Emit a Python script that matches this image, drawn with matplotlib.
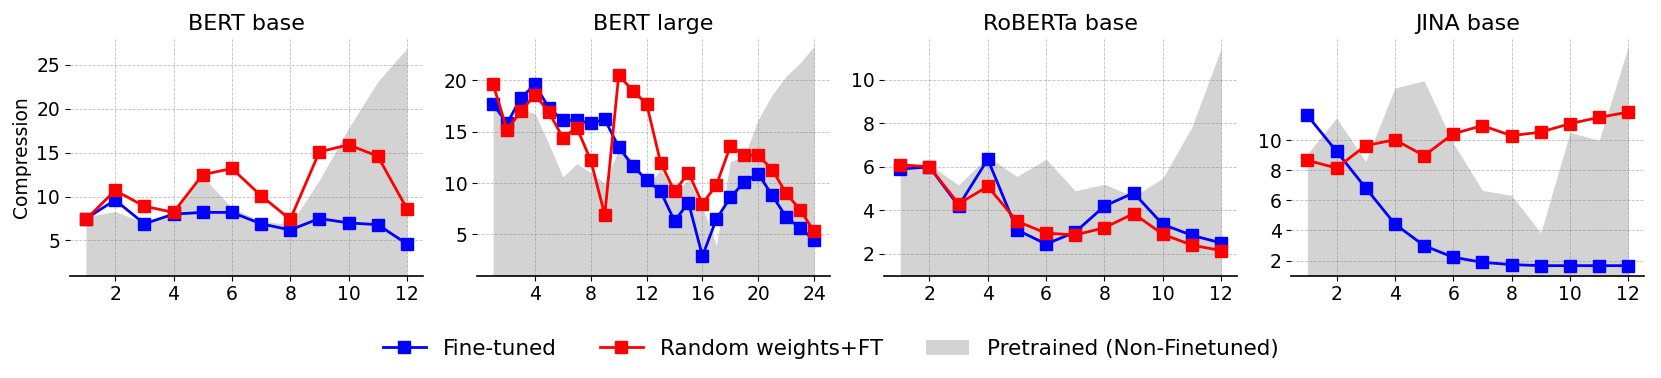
import matplotlib
matplotlib.use("Agg")
import matplotlib.pyplot as plt
import numpy as np

titles = ["BERT base", "BERT large", "RoBERTa base", "JINA base"]

bert_base_ft = [7.5, 9.6, 6.9, 8.0, 8.2, 8.2, 6.9, 6.2, 7.5, 7.0, 6.8, 4.6]
bert_base_rand = [7.4, 10.7, 8.9, 8.2, 12.5, 13.2, 10.1, 7.4, 15.1, 15.9, 14.6, 8.6]
bert_base_pre = [7.7, 8.3, 7.0, 8.0, 12.3, 8.7, 7.2, 6.8, 11.9, 17.8, 23.1, 26.9]

bert_large_ft = [17.7, 15.8, 18.3, 19.6, 17.3, 16.1, 16.1, 15.8, 16.2, 13.5, 11.7, 10.3,
                 9.2, 6.3, 8.1, 2.9, 6.5, 8.6, 10.1, 10.9, 8.8, 6.7, 5.6, 4.5]
bert_large_rand = [19.6, 15.2, 17.0, 18.6, 16.9, 14.4, 15.4, 12.2, 6.9, 20.5, 19.0, 17.7,
                   12.0, 9.2, 11.0, 8.0, 9.8, 13.6, 12.7, 12.7, 11.3, 9.0, 7.4, 5.3]
bert_large_pre = [17.5, 15.8, 17.1, 16.8, 13.8, 10.6, 11.9, 11.0, 10.0, 13.3, 12.3, 9.7,
                  11.3, 9.0, 10.3, 7.7, 3.95, 12.1, 12.6, 16.2, 18.6, 20.4, 21.7, 23.3]

roberta_ft = [5.9, 6.0, 4.2, 6.35, 3.1, 2.45, 3.0, 4.2, 4.8, 3.35, 2.85, 2.5]
roberta_rand = [6.1, 6.0, 4.3, 5.1, 3.5, 2.95, 2.87, 3.2, 3.85, 2.9, 2.4, 2.15]
roberta_pre = [6.1, 6.1, 5.17, 6.47, 5.56, 6.35, 4.9, 5.2, 4.64, 5.48, 7.85, 11.46]

jina_ft = [11.66, 9.27, 6.83, 4.43, 2.99, 2.22, 1.88, 1.73, 1.66, 1.66, 1.66, 1.66]
jina_rand = [8.67, 8.16, 9.65, 10.04, 8.98, 10.44, 10.98, 10.31, 10.55, 11.11, 11.53, 11.88]
jina_pre = [9.1, 11.49, 8.6, 13.48, 13.97, 9.82, 6.67, 6.34, 3.84, 10.53, 10.0, 16.25]

ft_series = [bert_base_ft, bert_large_ft, roberta_ft, jina_ft]
rand_series = [bert_base_rand, bert_large_rand, roberta_rand, jina_rand]
pre_series = [bert_base_pre, bert_large_pre, roberta_pre, jina_pre]

xticks_list = [[2, 4, 6, 8, 10, 12], [4, 8, 12, 16, 20, 24],
               [2, 4, 6, 8, 10, 12], [2, 4, 6, 8, 10, 12]]
yticks_list = [[5, 10, 15, 20, 25], [5, 10, 15, 20], [2, 4, 6, 8, 10], [2, 4, 6, 8, 10]]
ylims = [(1, 28.05), (1, 24.1), (1, 11.92), (1, 16.8)]

fig, axes = plt.subplots(1, 4, figsize=(16.61, 3.78), dpi=100)
fig.subplots_adjust(left=0.0421, right=0.990, bottom=0.271, top=0.899, wspace=0.153)

for i, ax in enumerate(axes):
    n = len(ft_series[i])
    x = np.arange(1, n + 1)
    ax.fill_between(x, 0, pre_series[i], color="lightgray", linewidth=0,
                    label="Pretrained (Non-Finetuned)")
    ax.plot(x, ft_series[i], "-s", color="blue", lw=2, ms=8, label="Fine-tuned")
    ax.plot(x, rand_series[i], "-s", color="red", lw=2, ms=8, label="Random weights+FT")
    ax.set_title(titles[i], fontsize=16)
    ax.set_xticks(xticks_list[i])
    ax.set_yticks(yticks_list[i])
    ax.set_ylim(*ylims[i])
    ax.set_xlim(1 - 0.05 * (n - 1), n + 0.05 * (n - 1))
    ax.tick_params(labelsize=13.5)
    ax.grid(True, linestyle="--", color="gray", alpha=0.5, linewidth=0.6)
    for s in ["top", "right", "left"]:
        ax.spines[s].set_visible(False)
    ax.spines["bottom"].set_linewidth(1.2)

axes[0].set_ylabel("Compression", fontsize=13.5)

handles, labels = axes[0].get_legend_handles_labels()
order = [1, 2, 0]
fig.legend([handles[k] for k in order], [labels[k] for k in order],
           loc="lower center", bbox_to_anchor=(0.5, 0.0), ncol=3, frameon=False,
           fontsize=15.5)

fig.savefig("out.png", dpi=100)
